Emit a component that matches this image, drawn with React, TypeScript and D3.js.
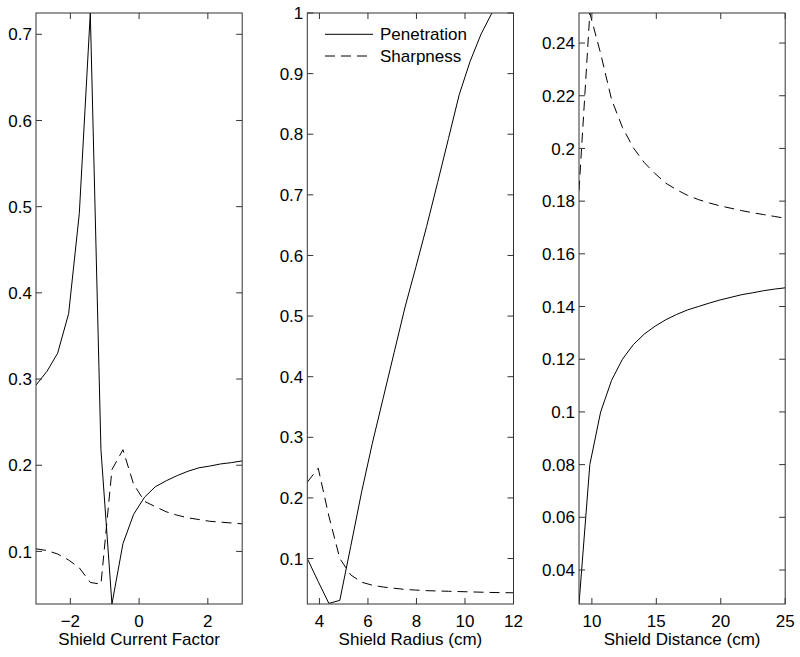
import { useEffect, useRef } from "react";
import * as d3 from "d3";

// Panel 1: shield current factor
const currentFactor = [-3, -2.68, -2.37, -2.05, -1.74, -1.42, -1.11, -0.79, -0.47, -0.16, 0.16, 0.47, 0.79, 1.11, 1.42, 1.74, 2.05, 2.37, 2.68, 3];
const currentPen = [0.293, 0.309, 0.33, 0.376, 0.492, 0.7247, 0.218, 0.039, 0.109, 0.143, 0.163, 0.175, 0.182, 0.188, 0.193, 0.197, 0.199, 0.2015, 0.203, 0.205];
const currentSharp = [0.103, 0.101, 0.097, 0.09, 0.081, 0.064, 0.062, 0.195, 0.218, 0.178, 0.158, 0.152, 0.146, 0.142, 0.139, 0.137, 0.135, 0.134, 0.133, 0.132];
const currentXTicks = [-2, 0, 2];
const currentYTicks = [0.1, 0.2, 0.3, 0.4, 0.5, 0.6, 0.7];

// Panel 2: shield radius
const radius = [3.5, 3.95, 4.39, 4.84, 5.29, 5.74, 6.18, 6.63, 7.08, 7.53, 7.97, 8.42, 8.87, 9.32, 9.76, 10.21, 10.66, 11.11, 11.55, 12];
const radiusPen = [0.1, 0.062, 0.026, 0.031, 0.12, 0.21, 0.29, 0.365, 0.44, 0.515, 0.58, 0.648, 0.72, 0.793, 0.865, 0.92, 0.965, 1.0, 1.035, 1.065];
const radiusSharp = [0.226, 0.249, 0.17, 0.1, 0.073, 0.061, 0.056, 0.053, 0.051, 0.049, 0.048, 0.047, 0.0465, 0.046, 0.0455, 0.045, 0.0445, 0.044, 0.0437, 0.0435];
const radiusXTicks = [4, 6, 8, 10, 12];
const radiusYTicks = [0.1, 0.2, 0.3, 0.4, 0.5, 0.6, 0.7, 0.8, 0.9, 1];

// Panel 3: shield distance
const distance = [9, 9.84, 10.68, 11.53, 12.37, 13.21, 14.05, 14.89, 15.74, 16.58, 17.42, 18.26, 19.11, 19.95, 20.79, 21.63, 22.47, 23.32, 24.16, 25];
const distancePen = [0.0271, 0.08, 0.1, 0.112, 0.12, 0.1255, 0.1295, 0.1325, 0.135, 0.137, 0.1387, 0.14, 0.1413, 0.1425, 0.1435, 0.1445, 0.1452, 0.146, 0.1466, 0.1471];
const distanceSharp = [0.184, 0.2514, 0.236, 0.2185, 0.208, 0.2003, 0.1947, 0.1905, 0.1868, 0.1843, 0.1822, 0.1806, 0.1793, 0.1782, 0.1773, 0.1764, 0.1756, 0.1749, 0.1742, 0.1735];
const distanceXTicks = [10, 15, 20, 25];
const distanceYTicks = [0.04, 0.06, 0.08, 0.1, 0.12, 0.14, 0.16, 0.18, 0.2, 0.22, 0.24];

const seriesNames = ["Penetration", "Sharpness"];

const panels = [
  { x: currentFactor, pen: currentPen, sharp: currentSharp, xDomain: [-3, 3], yDomain: [0.039, 0.7247], xTicks: currentXTicks, yTicks: currentYTicks, label: "Shield Current Factor" },
  { x: radius, pen: radiusPen, sharp: radiusSharp, xDomain: [3.5, 12], yDomain: [0.025, 1], xTicks: radiusXTicks, yTicks: radiusYTicks, label: "Shield Radius (cm)" },
  { x: distance, pen: distancePen, sharp: distanceSharp, xDomain: [9, 25], yDomain: [0.0271, 0.2514], xTicks: distanceXTicks, yTicks: distanceYTicks, label: "Shield Distance (cm)" },
];

const WIDTH = 800;
const HEIGHT = 657;
const FONT = "'Liberation Sans', Arial, Helvetica, sans-serif";

export default function App() {
  const svgRef = useRef<SVGSVGElement>(null);

  useEffect(() => {
    if (!svgRef.current) return;
    const svg = d3.select(svgRef.current);
    svg.selectAll("*").remove();

    const lefts = [36, 307.3, 579];
    const W = 206.2;
    const top = 13, bottom = 604;
    const tickLen = 6;
    const fmt = d3.format("~g");

    panels.forEach((p, i) => {
      const x = d3.scaleLinear().domain(p.xDomain).range([lefts[i], lefts[i] + W]);
      const y = d3.scaleLinear().domain(p.yDomain).range([bottom, top]);
      const g = svg.append("g");

      const clipId = `clip-${i}`;
      svg.append("clipPath").attr("id", clipId)
        .append("rect").attr("x", lefts[i]).attr("y", top).attr("width", W).attr("height", bottom - top);

      const line = d3.line<number>().x((_, k) => x(p.x[k])).y(v => y(v));

      g.append("path").datum(p.pen)
        .attr("d", line).attr("fill", "none").attr("stroke", "#000").attr("stroke-width", 1)
        .attr("clip-path", `url(#${clipId})`);
      g.append("path").datum(p.sharp)
        .attr("d", line).attr("fill", "none").attr("stroke", "#000").attr("stroke-width", 1)
        .attr("stroke-dasharray", "10,6").attr("clip-path", `url(#${clipId})`);

      // box
      g.append("rect")
        .attr("x", lefts[i]).attr("y", top).attr("width", W).attr("height", bottom - top)
        .attr("fill", "none").attr("stroke", "#333").attr("stroke-width", 1);

      // x ticks, inward on bottom and top
      p.xTicks.forEach(t => {
        const px = x(t);
        g.append("line").attr("x1", px).attr("x2", px).attr("y1", bottom).attr("y2", bottom - tickLen)
          .attr("stroke", "#333");
        g.append("line").attr("x1", px).attr("x2", px).attr("y1", top).attr("y2", top + tickLen)
          .attr("stroke", "#333");
        g.append("text").attr("x", px).attr("y", bottom + 23)
          .attr("text-anchor", "middle").attr("font-family", FONT).attr("font-size", 17)
          .text(fmt(t));
      });

      // y ticks, inward on left and right
      p.yTicks.forEach(t => {
        const py = y(t);
        g.append("line").attr("x1", lefts[i]).attr("x2", lefts[i] + tickLen).attr("y1", py).attr("y2", py)
          .attr("stroke", "#333");
        g.append("line").attr("x1", lefts[i] + W).attr("x2", lefts[i] + W - tickLen).attr("y1", py).attr("y2", py)
          .attr("stroke", "#333");
        g.append("text").attr("x", lefts[i] - 4).attr("y", py).attr("dy", "0.36em")
          .attr("text-anchor", "end").attr("font-family", FONT).attr("font-size", 17)
          .text(fmt(t));
      });

      g.append("text").attr("x", lefts[i] + W / 2).attr("y", bottom + 41)
        .attr("text-anchor", "middle").attr("font-family", FONT).attr("font-size", 17)
        .text(p.label);
    });

    // legend in the middle panel
    const lg = svg.append("g");
    seriesNames.forEach((name, k) => {
      const ly = 34.3 + k * 21.7;
      lg.append("line").attr("x1", 325).attr("x2", 373).attr("y1", ly).attr("y2", ly)
        .attr("stroke", "#000").attr("stroke-width", 1)
        .attr("stroke-dasharray", k === 1 ? "10,6" : null);
      lg.append("text").attr("x", 380).attr("y", ly).attr("dy", "0.36em")
        .attr("font-family", FONT).attr("font-size", 17)
        .text(name);
    });
  }, []);

  return (
    <svg ref={svgRef} width={WIDTH} height={HEIGHT}
      style={{ position: "absolute", left: 0, top: 0, background: "#fff" }} />
  );
}
